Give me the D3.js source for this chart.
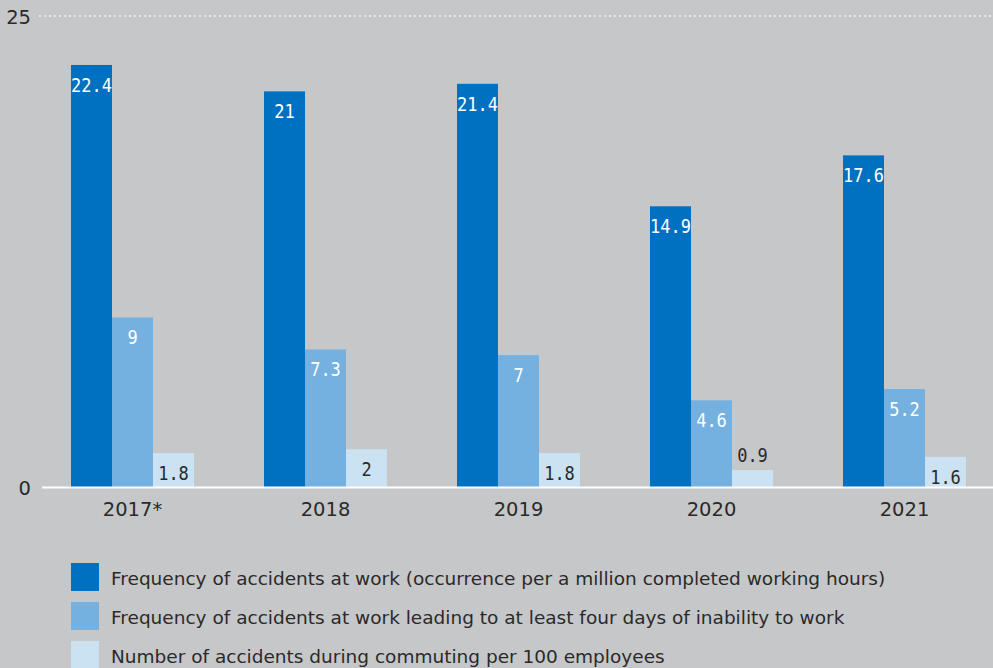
<!DOCTYPE html>
<html><head><meta charset="utf-8">
<script src="https://cdn.jsdelivr.net/npm/d3@7"></script>
<style>
html,body{margin:0;padding:0;background:#c6c7c9;}
svg{display:block;}
.sans{font-family:"DejaVu Sans",sans-serif;}
.mono{font-family:"DejaVu Sans Mono",monospace;}
</style></head>
<body>
<script>
const categories = ["2017*","2018","2019","2020","2021"];
const seriesNames = [
  "Frequency of accidents at work (occurrence per a million completed working hours)",
  "Frequency of accidents at work leading to at least four days of inability to work",
  "Number of accidents during commuting per 100 employees"
];
const accidentsPerMillionHours = [22.4, 21, 21.4, 14.9, 17.6];
const accidentsFourDays = [9, 7.3, 7, 4.6, 5.2];
const commutingPer100 = [1.8, 2, 1.8, 0.9, 1.6];
const yTicks = [0, 25];
const colors = ["#0070c1", "#74b1e0", "#cbe2f3"];
const labelColors = ["#ffffff", "#ffffff", "#2a2a2a"];

const series = [accidentsPerMillionHours, accidentsFourDays, commutingPer100];
const W = 993, H = 668;
const svg = d3.select("body").append("svg").attr("width", W).attr("height", H);

const x = d3.scaleBand().domain(categories).range([36, 1001])
  .paddingInner(70/193).paddingOuter(35/193);
const xs = d3.scaleBand().domain([0,1,2]).range([0, x.bandwidth()]);
const y = d3.scaleLinear().domain([0, 25]).range([487, 16]);

svg.append("line").attr("x1", 39).attr("x2", W).attr("y1", y(25)).attr("y2", y(25))
  .attr("stroke", "#f2f2f2").attr("stroke-width", 1.5).attr("stroke-dasharray", "2,3");

svg.selectAll(".yt").data(yTicks).enter().append("text").attr("class", "sans")
  .attr("x", 31).attr("y", d => y(d) + 8)
  .attr("text-anchor", "end").attr("font-size", 19.5).attr("fill", "#2a2a2a")
  .text(d => d);

categories.forEach((c, i) => {
  series.forEach((s, k) => {
    const v = s[i];
    const bx = x(c) + xs(k);
    svg.append("rect").attr("x", bx).attr("y", y(v))
      .attr("width", xs.bandwidth()).attr("height", y(0) - y(v))
      .attr("fill", colors[k]);
    const inside = v > 1.2;
    const ty = inside ? y(v) + 27 : y(v) - 8;
    svg.append("text").attr("class", "mono")
      .attr("transform", `translate(${bx + xs.bandwidth()/2},${ty}) scale(0.85,1)`)
      .attr("text-anchor", "middle").attr("font-size", 20)
      .attr("fill", inside ? labelColors[k] : "#2a2a2a")
      .text(v);
  });
});

svg.append("line").attr("x1", 42).attr("x2", W).attr("y1", y(0)+0.5).attr("y2", y(0)+0.5)
  .attr("stroke", "#ffffff").attr("stroke-width", 2);

svg.selectAll(".xl").data(categories).enter().append("text").attr("class", "sans")
  .attr("x", d => x(d) + x.bandwidth()/2).attr("y", 516)
  .attr("text-anchor", "middle").attr("font-size", 19.5).attr("fill", "#2a2a2a")
  .text(d => d);

seriesNames.forEach((n, k) => {
  const ly = 563 + k * 39;
  svg.append("rect").attr("x", 71).attr("y", ly).attr("width", 28).attr("height", 28)
    .attr("fill", colors[k]);
  svg.append("text").attr("class", "sans").attr("x", 111).attr("y", ly + 22)
    .attr("font-size", 18.5).attr("fill", "#2a2a2a").text(n);
});
</script>
</body></html>
